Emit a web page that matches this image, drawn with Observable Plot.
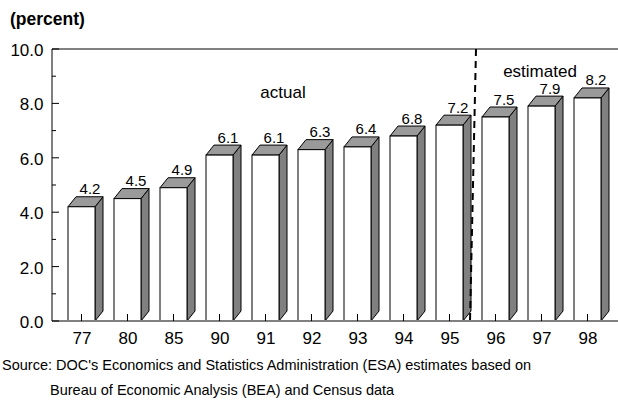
<!DOCTYPE html>
<html><head><meta charset="utf-8">
<script src="https://cdn.jsdelivr.net/npm/d3@7"></script>
<script src="https://cdn.jsdelivr.net/npm/@observablehq/plot@0.6"></script>
<style>
body{margin:0;background:#fff;font-family:"Liberation Sans",Arial,sans-serif;color:#000;}
#wrap{position:relative;width:618px;height:402px;overflow:hidden;background:#fff;}
#title{position:absolute;left:10px;top:11px;font-weight:bold;font-size:17.5px;line-height:17px;white-space:nowrap;}
.cap{position:absolute;font-size:14.5px;line-height:14.5px;white-space:nowrap;}
</style></head><body>
<div id="wrap"><div id="chart"></div>
<div id="title"></div>
<div class="cap" id="cap1" style="left:2px;top:358px"></div>
<div class="cap" id="cap2" style="left:50px;top:382.5px"></div>
</div>
<script>
// ---- data ----
const years = ["77","80","85","90","91","92","93","94","95","96","97","98"];
const values = [4.2, 4.5, 4.9, 6.1, 6.1, 6.3, 6.4, 6.8, 7.2, 7.5, 7.9, 8.2];
const yTicks = [0, 2, 4, 6, 8, 10];
const yMinorTicks = [1, 3, 5, 7, 9];
const periodLabels = ["actual", "estimated"];
const periodAnchor = ["91", "97"];
const periodY = [8.2, 9.0];
const splitBetween = ["95", "96"];
const titleText = "(percent)";
const captionLines = [
  "Source: DOC's Economics and Statistics Administration (ESA) estimates based on",
  "Bureau of Economic Analysis (BEA) and Census data"
];

document.getElementById("title").textContent = titleText;
document.getElementById("cap1").textContent = captionLines[0];
document.getElementById("cap2").textContent = captionLines[1];

const data = years.map((year, i) => ({year, value: values[i]}));
const DX = 8, DY = 10;

function decorations(index, scales, vals, dims) {
  const {x, y} = scales;
  const bw = x.bandwidth();
  const g = d3.create("svg:g");
  const left = dims.marginLeft, right = dims.width;
  const y0 = y(0);
  g.append("line").attr("x1", left).attr("x2", right).attr("y1", y(10)).attr("y2", y(10))
    .attr("stroke", "#808080").attr("stroke-width", 2);
  for (const d of data) {
    const x0 = x(d.year), x1 = x0 + bw, yv = y(d.value);
    g.append("path")
      .attr("d", `M${x1},${y0}L${x1 + DX},${y0 - DY}L${x1 + DX},${yv - DY}L${x1},${yv}Z`)
      .attr("fill", "#808080").attr("stroke", "#000").attr("stroke-width", 1).attr("stroke-linejoin", "round");
    g.append("path")
      .attr("d", `M${x0},${yv}L${x0 + DX},${yv - DY}L${x1 + DX},${yv - DY}L${x1},${yv}Z`)
      .attr("fill", "#9a9a9a").attr("stroke", "#000").attr("stroke-width", 1).attr("stroke-linejoin", "round");
  }
  return g.node();
}

function overlay(index, scales, vals, dims) {
  const {x, y} = scales;
  const bw = x.bandwidth();
  const g = d3.create("svg:g");
  const left = dims.marginLeft, right = dims.width;
  const y0 = y(0);
  g.append("line").attr("x1", left).attr("x2", right).attr("y1", y0).attr("y2", y0)
    .attr("stroke", "#808080").attr("stroke-width", 2);
  for (const yr of years) {
    const xc = x(yr) + bw / 2;
    g.append("line").attr("x1", xc).attr("x2", xc).attr("y1", y0).attr("y2", y0 - 7)
      .attr("stroke", "#000").attr("stroke-width", 1);
  }
  for (const t of yTicks) {
    g.append("line").attr("x1", left).attr("x2", left + 7).attr("y1", y(t)).attr("y2", y(t))
      .attr("stroke", "#000").attr("stroke-width", 1);
  }
  for (const t of yMinorTicks) {
    g.append("line").attr("x1", left).attr("x2", left + 4).attr("y1", y(t)).attr("y2", y(t))
      .attr("stroke", "#000").attr("stroke-width", 1);
  }
  g.append("line").attr("x1", left).attr("x2", left).attr("y1", y(10)).attr("y2", y0)
    .attr("stroke", "#000").attr("stroke-width", 1);
  const xm = (x(splitBetween[0]) + x(splitBetween[1])) / 2 + bw / 2;
  g.append("line").attr("x1", xm + 3.5).attr("x2", xm - 2.5).attr("y1", y(10)).attr("y2", y0)
    .attr("stroke", "#000").attr("stroke-width", 2).attr("stroke-dasharray", "7,5");
  return g.node();
}

const chart = Plot.plot({
  width: 618, height: 350,
  marginLeft: 52, marginRight: 2, marginTop: 49, marginBottom: 29,
  style: {fontFamily: "'Liberation Sans', Arial, sans-serif", fontSize: "17px", color: "#000", background: "transparent", overflow: "visible"},
  x: {domain: years, paddingInner: 0.42, paddingOuter: 0.27, label: null, axis: null},
  y: {domain: [0, 10], label: null, axis: null},
  marks: [
    decorations,
    Plot.barY(data, {x: "year", y: "value", fill: "white", stroke: "#000", strokeWidth: 1}),
    overlay,
    Plot.text(data, {x: "year", y: "value", text: d => d.value.toFixed(1), dx: DX, dy: -(DY + 3), lineAnchor: "bottom", fontSize: 15, fill: "#000"}),
    Plot.axisX({tickSize: 0, tickPadding: 10, fontSize: 17, label: null}),
    Plot.axisY(yTicks, {tickSize: 0, tickPadding: 9, tickFormat: d3.format(".1f"), fontSize: 17, label: null, dy: 1}),
    Plot.text([periodLabels[0]], {x: () => periodAnchor[0], y: () => periodY[0], text: d => d, dx: 17, lineAnchor: "bottom", fontSize: 17}),
    Plot.text([periodLabels[1]], {x: () => periodAnchor[1], y: () => periodY[1], text: d => d, dx: -2, lineAnchor: "bottom", fontSize: 17})
  ]
});
document.getElementById("chart").appendChild(chart);
</script>
</body></html>
